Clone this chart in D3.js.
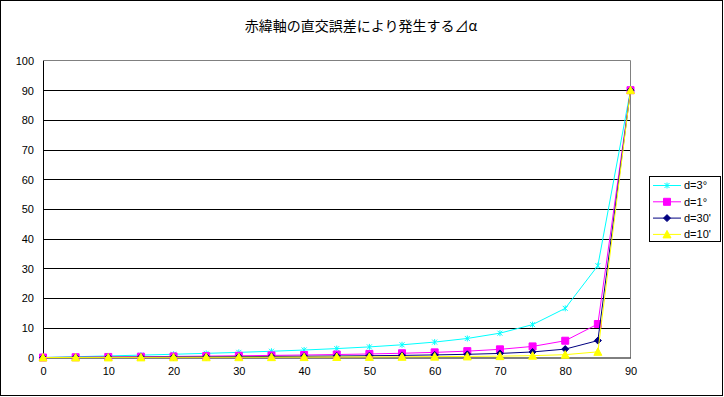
<!DOCTYPE html>
<html>
<head>
<meta charset="utf-8">
<script src="https://cdn.jsdelivr.net/npm/d3@7/dist/d3.min.js"></script>
<style>
  body { margin: 0; background: #fff; }
  svg { display: block; }
  text { font-family: "Liberation Sans", Arial, sans-serif; font-size: 11px; fill: #000; }
  .title { font-family: "Noto Sans CJK JP", sans-serif; font-size: 14px; }
</style>
</head>
<body>
<svg width="724" height="397"></svg>
<script>
  const title = "赤緯軸の直交誤差により発生する⊿α";
  const declination = [0, 5, 10, 15, 20, 25, 30, 35, 40, 45, 50, 55, 60, 65, 70, 75, 80, 85, 90];
  const d3deg = [0, 0.26, 0.53, 0.8, 1.09, 1.4, 1.73, 2.1, 2.52, 3.0, 3.57, 4.28, 5.19, 6.41, 8.19, 11.07, 16.55, 30.93, 90];
  const d1deg = [0, 0.09, 0.18, 0.27, 0.36, 0.47, 0.58, 0.7, 0.84, 1.0, 1.19, 1.43, 1.73, 2.14, 2.75, 3.73, 5.65, 11.28, 90];
  const d30min = [0, 0.04, 0.09, 0.13, 0.18, 0.23, 0.29, 0.35, 0.42, 0.5, 0.6, 0.71, 0.87, 1.07, 1.37, 1.87, 2.83, 5.7, 90];
  const d10min = [0, 0.01, 0.03, 0.04, 0.06, 0.08, 0.1, 0.12, 0.14, 0.17, 0.2, 0.24, 0.29, 0.36, 0.46, 0.62, 0.95, 1.9, 90];
  const seriesNames = ["d=3°", "d=1°", "d=30'", "d=10'"];
  const seriesColors = ["#00ffff", "#ff00ff", "#000080", "#ffff00"];
  const seriesMarkers = ["star", "square", "diamond", "triangle"];
  const xTicks = [0, 10, 20, 30, 40, 50, 60, 70, 80, 90];
  const yTicks = [0, 10, 20, 30, 40, 50, 60, 70, 80, 90, 100];

  const svg = d3.select("svg");
  const width = +svg.attr("width");
  const height = +svg.attr("height");

  // chart frame
  svg.append("rect")
    .attr("x", 0.5).attr("y", 0.5)
    .attr("width", width - 2).attr("height", height - 2)
    .attr("fill", "#fff").attr("stroke", "#000");

  const x = d3.scaleLinear().domain([0, 90]).range([43, 630.5]);
  const y = d3.scaleLinear().domain([0, 100]).range([357.5, 60.5]);

  svg.append("text").attr("class", "title")
    .attr("x", 361).attr("y", 31)
    .attr("text-anchor", "middle")
    .text(title);

  // gridlines
  svg.append("g").selectAll("line")
    .data(yTicks.filter((t) => t > 0 && t < 100))
    .join("line")
    .attr("x1", x(0)).attr("x2", x(90))
    .attr("y1", (d) => Math.round(y(d)) + 0.5).attr("y2", (d) => Math.round(y(d)) + 0.5)
    .attr("stroke", "#000");

  // plot area border (top, right)
  svg.append("path")
    .attr("d", `M${x(0)},${y(100)}H${x(90)}V${y(0)}`)
    .attr("fill", "none").attr("stroke", "#808080");

  const yAxis = d3.axisLeft(y).tickValues(yTicks).tickSize(0).tickPadding(9);
  const yAxisG = svg.append("g")
    .attr("transform", `translate(${x(0)},0)`)
    .call(yAxis);
  yAxisG.select(".domain").attr("stroke", "#000");
  yAxisG.selectAll("text").attr("dy", "0.35em");

  const xAxis = d3.axisBottom(x).tickValues(xTicks).tickSize(0).tickPadding(10);
  const xAxisG = svg.append("g")
    .attr("transform", `translate(0,${y(0)})`)
    .call(xAxis);
  xAxisG.select(".domain").attr("stroke", "#000");

  const series = [d3deg, d1deg, d30min, d10min];

  const markerPath = (type) => {
    if (type === "square") return "M-3.5,-3.5h7v7h-7z";
    if (type === "diamond") return "M0,-3.5L3.5,0L0,3.5L-3.5,0z";
    if (type === "triangle") return "M0,-4L4,3.5H-4z";
    return "M-2.5,-2.5L2.5,2.5M-2.5,2.5L2.5,-2.5M0,-3V3";
  };

  const line = d3.line()
    .x((d) => x(d[0]))
    .y((d) => y(d[1]));

  series.forEach((vals, i) => {
    const pts = declination.map((dv, j) => [dv, vals[j]]);
    const g = svg.append("g");
    g.append("path")
      .attr("d", line(pts))
      .attr("fill", "none")
      .attr("stroke", seriesColors[i])
      .attr("stroke-width", 1);
    g.selectAll("path.mk")
      .data(pts)
      .join("path")
      .attr("class", "mk")
      .attr("transform", (d) => `translate(${x(d[0])},${y(d[1])})`)
      .attr("d", markerPath(seriesMarkers[i]))
      .attr("fill", seriesMarkers[i] === "star" ? "none" : seriesColors[i])
      .attr("stroke", seriesColors[i]);
  });

  // legend
  const legend = svg.append("g");
  legend.append("rect")
    .attr("x", 649.5).attr("y", 176.5)
    .attr("width", 71).attr("height", 65)
    .attr("fill", "#fff").attr("stroke", "#000");
  seriesNames.forEach((name, i) => {
    const ly = 185.5 + i * 16.3;
    legend.append("line")
      .attr("x1", 653).attr("x2", 681)
      .attr("y1", ly).attr("y2", ly)
      .attr("stroke", seriesColors[i]);
    legend.append("path")
      .attr("transform", `translate(667,${ly})`)
      .attr("d", markerPath(seriesMarkers[i]))
      .attr("fill", seriesMarkers[i] === "star" ? "none" : seriesColors[i])
      .attr("stroke", seriesColors[i]);
    legend.append("text")
      .attr("x", 684).attr("y", ly).attr("dy", "0.35em")
      .text(name);
  });
</script>
</body>
</html>
